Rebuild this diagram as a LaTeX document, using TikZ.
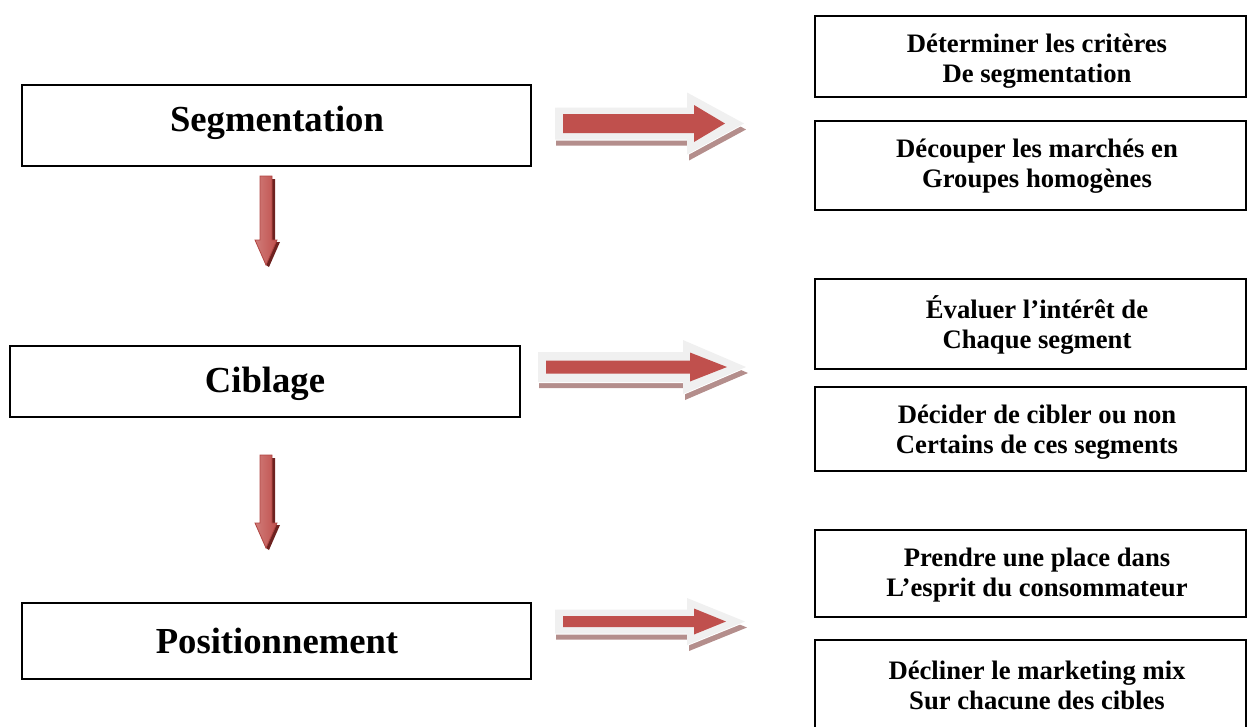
\documentclass[tikz,border=0pt]{standalone}
\usepackage{fontspec}
\setmainfont{Liberation Serif}

\definecolor{arrowred}{HTML}{C0504D}
\definecolor{arrowgray}{HTML}{F0F0F0}
\definecolor{arrowshade}{HTML}{B48E8C}
\definecolor{arrowdark}{HTML}{6E2220}
\definecolor{arrowedge}{HTML}{B04542}

% Block arrow pointing right: gray halo, soft drop shadow, red body.
% #1 gray tail x, #2 gray head base x, #3 gray tip x, #4 centre y,
% #5 gray shaft half-height, #6 gray head half-height,
% #7 red shaft half-height, #8 red head half-height
\newcommand\rightblock[8]{%
  \fill[arrowshade]
    ({#1+1},{#4-#5+6}) -- ({#2+2},{#4-#5+6}) -- ({#2+2},{#4-#6+6}) -- ({#3+2},{#4+6})
    -- ({#2+2},{#4+#6+6}) -- ({#2+2},{#4+#5+6}) -- ({#1+1},{#4+#5+6}) -- cycle;
  \fill[white]
    ({#1},{#4+#5+1}) -- ({#2},{#4+#5+1}) -- ({#2},{#4+#6+1}) -- ({#3},{#4+1})
    -- ({#3},{#4-1}) -- ({#2},{#4-#6}) -- ({#1},{#4-#5}) -- cycle;
  \fill[arrowgray]
    ({#1},{#4-#5}) -- ({#2},{#4-#5}) -- ({#2},{#4-#6}) -- ({#3},{#4})
    -- ({#2},{#4+#6}) -- ({#2},{#4+#5}) -- ({#1},{#4+#5}) -- cycle;
  \fill[arrowred]
    ({#1+8},{#4-#7}) -- ({#2+7},{#4-#7}) -- ({#2+7},{#4-#8}) -- ({#3-19},{#4})
    -- ({#2+7},{#4+#8}) -- ({#2+7},{#4+#7}) -- ({#1+8},{#4+#7}) -- cycle;
}

% Block arrow pointing down with a dark shadow on its right side.
% #1 centre x, #2 top y, #3 head base y, #4 tip y
\newcommand\downblock[4]{%
  \fill[arrowdark]
    ({#1},{#2+3}) -- ({#1+9},{#2+3}) -- ({#1+9},{#3+2}) -- ({#1+14},{#3+2})
    -- ({#1+3},{#4+2}) -- ({#1},{#4}) -- cycle;
  \draw[arrowedge, line width=0.6pt,
        left color=arrowred!75!white, middle color=arrowred!35!white, right color=arrowred]
    ({#1-6},{#2}) -- ({#1+6},{#2}) -- ({#1+6},{#3}) -- ({#1+11},{#3})
    -- ({#1},{#4}) -- ({#1-11},{#3}) -- ({#1-6},{#3}) -- cycle;
}

\begin{document}
\begin{tikzpicture}[x=0.75pt, y=-0.75pt,
  stagebox/.style={draw=black, line width=1.4pt, inner sep=0pt, fill=white},
  taskbox/.style={draw=black, line width=1.4pt, inner sep=0pt, fill=white,
                  minimum width=323.25pt},
  stagetext/.style={font=\bfseries\fontsize{27.5}{30}\selectfont, inner sep=0pt},
  tasktext/.style={font=\bfseries\fontsize{20}{22.5}\selectfont, align=center, inner sep=0pt}]

\useasboundingbox (0,0) rectangle (1247,726);

% Stages on the left
\node[stagebox, minimum width=381.75pt, minimum height=60.75pt] (seg) at (276.5,125.5) {};
\node[stagebox, minimum width=382.5pt,  minimum height=53.25pt] (cib) at (265,381.5) {};
\node[stagebox, minimum width=381.75pt, minimum height=57pt]    (pos) at (276.5,641) {};

\node[stagetext] (segtext) at (277,122.5) {Segmentation};
\node[stagetext] (cibtext) at (265,384) {Ciblage};
\node[stagetext] (postext) at (277,640.5) {Positionnement};

% Tasks on the right
\node[taskbox, minimum height=60.75pt] (r1) at (1030.5,56.5)  {};
\node[taskbox, minimum height=66.75pt] (r2) at (1030.5,165.5) {};
\node[taskbox, minimum height=67.5pt]  (r3) at (1030.5,324)   {};
\node[taskbox, minimum height=63pt]    (r4) at (1030.5,429)   {};
\node[taskbox, minimum height=65.25pt] (r5) at (1030.5,573.5) {};
\node[taskbox, minimum height=71.25pt] (r6) at (1030.5,687.5) {};

\node[tasktext] (t1) at (1037,61)    {Déterminer les critères\\De segmentation};
\node[tasktext] (t2) at (1037,166.5) {Découper les marchés en\\Groupes homogènes};
\node[tasktext] (t3) at (1037,325)   {Évaluer l’intérêt de\\Chaque segment};
\node[tasktext] (t4) at (1037,432.5) {Décider de cibler ou non\\Certains de ces segments};
\node[tasktext] (t5) at (1037,575)   {Prendre une place dans\\L’esprit du consommateur};
\node[tasktext] (t6) at (1037,685.5) {Décliner le marketing mix\\Sur chacune des cibles};

% Arrows from each stage to its tasks
\rightblock{555}{687}{744}{123.5}{16}{31}{9.5}{18.5}
\rightblock{538}{683}{746}{367}{15}{27}{6.5}{14.5}
\rightblock{555}{687}{745}{621.5}{12}{23.5}{5.5}{13}

% Arrows between stages
\downblock{266}{176}{240}{265}
\downblock{266}{455}{523}{548}

\end{tikzpicture}
\end{document}
